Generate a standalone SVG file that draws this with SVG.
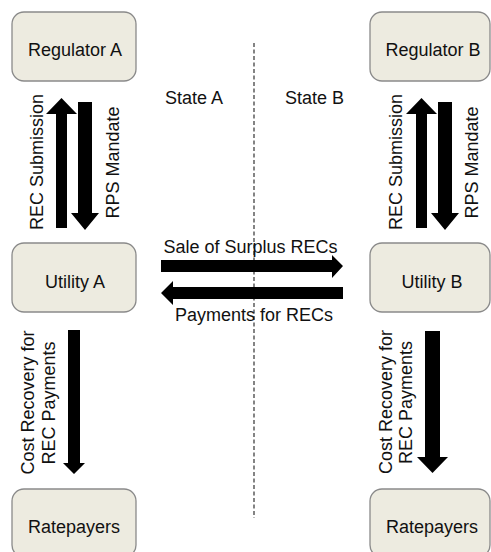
<svg xmlns="http://www.w3.org/2000/svg" width="491" height="552" viewBox="0 0 491 552">
<defs>
<style>
.box{fill:#EDEBE0;stroke:#8A8A8A;stroke-width:1.3}
.lbl{font-family:"Liberation Sans",Arial,sans-serif;font-size:18px;fill:#111}
.mid{text-anchor:middle}
.arr{fill:#000}
.divider{stroke:#333;stroke-width:1.2;stroke-dasharray:4 2.5;fill:none}
</style>
</defs>
<rect width="491" height="552" fill="#fff"/>
<line class="divider" x1="254" y1="43" x2="254" y2="518"/>
<text class="lbl" x="165" y="104">State A</text>
<text class="lbl" x="285" y="104">State B</text>
<g id="regulatorA"><rect class="box" x="12" y="12" width="124" height="69" rx="12"/><text class="lbl mid" x="75" y="56">Regulator A</text></g>
<g id="regulatorB"><rect class="box" x="370" y="12" width="120" height="69" rx="12"/><text class="lbl mid" x="433" y="56">Regulator B</text></g>
<g id="utilityA"><rect class="box" x="12" y="243" width="124" height="69" rx="12"/><text class="lbl mid" x="75" y="288">Utility A</text></g>
<g id="utilityB"><rect class="box" x="370" y="243" width="120" height="69" rx="12"/><text class="lbl mid" x="432" y="288">Utility B</text></g>
<g id="ratepayersA"><rect class="box" x="12" y="489" width="124" height="68" rx="12"/><text class="lbl mid" x="74" y="533">Ratepayers</text></g>
<g id="ratepayersB"><rect class="box" x="370" y="489" width="120" height="68" rx="12"/><text class="lbl mid" x="432" y="533">Ratepayers</text></g>
<g id="connectors">
<polygon class="arr" points="61.5,98 77,114 67,114 67,228 56,228 56,114 46,114"/>
<polygon class="arr" points="78,102 92,102 92,213 99,213 85,230 71,213 78,213"/>
<polygon class="arr" points="421.5,98 437,114 427,114 427,228 416,228 416,114 406,114"/>
<polygon class="arr" points="438,102 452,102 452,213 459,213 445,230 431,213 438,213"/>
<polygon class="arr" points="161,260 332,260 332,255 343,266 332,278 332,272 161,272"/>
<polygon class="arr" points="343,287 173,287 173,281 161,293 173,305 173,299 343,299"/>
<polygon class="arr" points="68,330 80,330 80,463 85,463 74,474 63,463 68,463"/>
<polygon class="arr" points="425,331 440,331 440,457 448,457 432.5,473 417,457 425,457"/>
<text class="lbl mid" transform="translate(43,162) rotate(-90)">REC Submission</text>
<text class="lbl mid" transform="translate(119,162.5) rotate(-90)">RPS Mandate</text>
<text class="lbl mid" transform="translate(402,162) rotate(-90)">REC Submission</text>
<text class="lbl mid" transform="translate(478,162.5) rotate(-90)">RPS Mandate</text>
<text class="lbl mid" x="250.5" y="253">Sale of Surplus RECs</text>
<text class="lbl mid" x="254" y="321">Payments for RECs</text>
<text class="lbl mid" transform="translate(33.5,402.5) rotate(-90)">Cost Recovery for</text>
<text class="lbl mid" transform="translate(54.5,403) rotate(-90)">REC Payments</text>
<text class="lbl mid" transform="translate(392,402) rotate(-90)">Cost Recovery for</text>
<text class="lbl mid" transform="translate(412,402.5) rotate(-90)">REC Payments</text>
</g>
</svg>
